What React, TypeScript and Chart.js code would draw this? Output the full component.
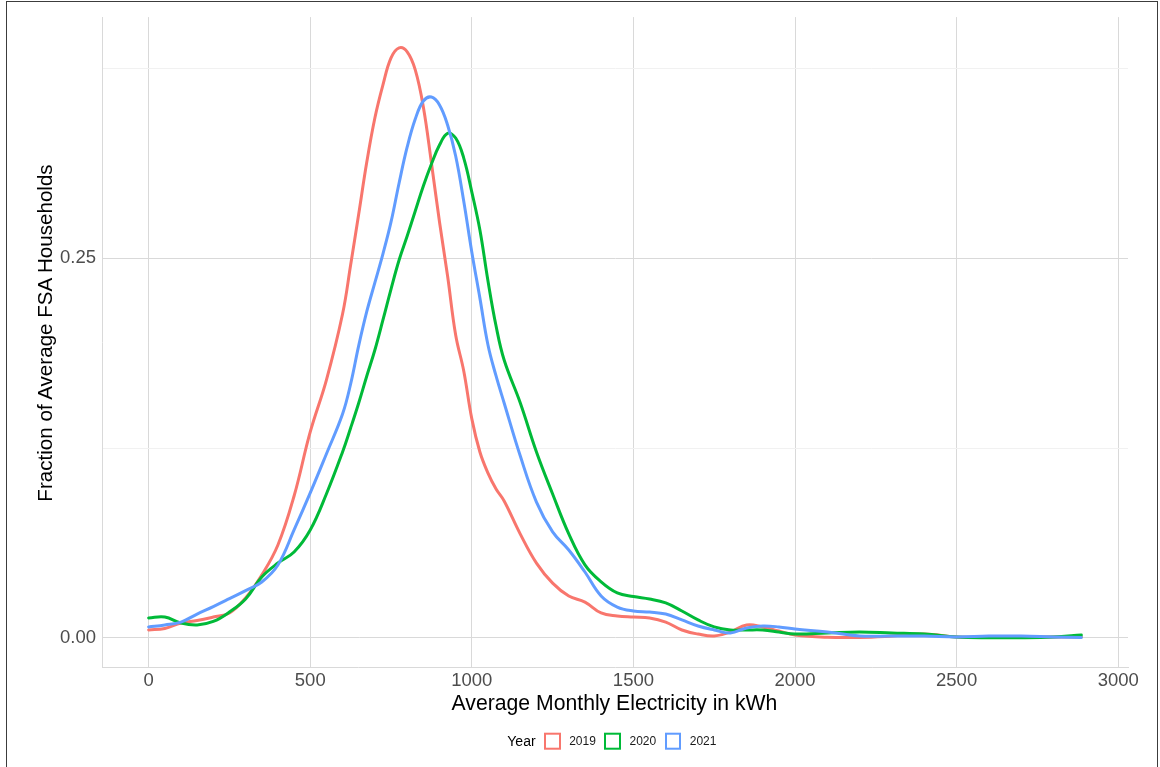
import React, { useEffect, useRef } from "react";
import { Chart, registerables } from "chart.js";

Chart.register(...registerables);

// Average monthly electricity (kWh) sample positions
const kwh = [
  0, 50, 100, 150, 200, 250, 300, 350, 400, 450, 500, 550,
  600, 625, 650, 675, 700, 725, 750, 775, 800, 825, 850, 875, 900, 925, 950, 975, 1000, 1025, 1050, 1075, 1100,
  1150, 1200, 1250, 1300, 1350, 1400, 1450, 1500, 1550, 1600, 1650, 1700, 1750, 1800, 1850, 1900, 1950, 2000,
  2100, 2200, 2300, 2400, 2500, 2600, 2700, 2800, 2886,
];

const density2019 = [
  0.0051, 0.0061, 0.0097, 0.0113, 0.0136, 0.0163, 0.0262, 0.0413, 0.0611, 0.0934, 0.1356, 0.1698,
  0.2133, 0.2456, 0.2792, 0.3135, 0.3425, 0.3643, 0.3821, 0.3887, 0.3861, 0.3742, 0.3498, 0.3129, 0.274, 0.2384, 0.1995, 0.1758, 0.1442, 0.1224, 0.1085, 0.098, 0.0901,
  0.0683, 0.0492, 0.036, 0.0275, 0.0235, 0.0163, 0.0143, 0.0136, 0.013, 0.0103, 0.0051, 0.0024, 0.0011, 0.0038, 0.0084, 0.0071, 0.0044, 0.0018,
  0.0003, 0.0002, 0.0011, 0.0024, 0.0005, 0.0005, 0.0005, 0.0005, 0.0005,
];

const density2020 = [
  0.013, 0.0136, 0.0097, 0.0084, 0.0107, 0.0169, 0.0255, 0.04, 0.0492, 0.0565, 0.071, 0.0947,
  0.1224, 0.1382, 0.1547, 0.1725, 0.1896, 0.2094, 0.2298, 0.2489, 0.2647, 0.2812, 0.2977, 0.3122, 0.3247, 0.3324, 0.3293, 0.3161, 0.2937, 0.2687, 0.2351, 0.2054, 0.183,
  0.1547, 0.1224, 0.0947, 0.0684, 0.048, 0.0368, 0.0295, 0.0271, 0.0255, 0.0229, 0.0176, 0.0117, 0.0071, 0.0051, 0.0051, 0.0051, 0.0038, 0.0024,
  0.0031, 0.0038, 0.0031, 0.0024, 0.0005, 0.0, 0.0, 0.0005, 0.0018,
];

const density2021 = [
  0.0071, 0.0084, 0.0103, 0.0156, 0.0205, 0.0257, 0.031, 0.0367, 0.0479, 0.071, 0.0954, 0.1211,
  0.1474, 0.1672, 0.1925, 0.215, 0.234, 0.253, 0.274, 0.2997, 0.3234, 0.3418, 0.3537, 0.3563, 0.3511, 0.3379, 0.3175, 0.2877, 0.2541, 0.2238, 0.1929, 0.1725, 0.1547,
  0.1197, 0.0894, 0.0697, 0.0578, 0.0433, 0.0275, 0.0202, 0.0176, 0.0169, 0.0156, 0.0117, 0.0077, 0.0051, 0.0031, 0.0064, 0.0077, 0.0071, 0.0057,
  0.0038, 0.0011, 0.0011, 0.0011, 0.0005, 0.0011, 0.0011, 0.0005, 0.0001,
];

const years = ["2019", "2020", "2021"];
const seriesValues = [density2019, density2020, density2021];
const seriesColors = ["#F8766D", "#00BA38", "#619CFF"];

const xTickValues = [0, 500, 1000, 1500, 2000, 2500, 3000];
const yTickValues = [0, 0.125, 0.25, 0.375];
const yTickLabels = ["0.00", "", "0.25", ""];

const xTitle = "Average Monthly Electricity in kWh";
const yTitle = "Fraction of Average FSA Households";
const legendTitle = "Year";

const FONT = '"Liberation Sans", Arial, Helvetica, sans-serif';

export default function App() {
  const canvasRef = useRef<HTMLCanvasElement | null>(null);

  useEffect(() => {
    if (!canvasRef.current) return;
    const datasets = years.map((yr, i) => ({
      label: yr,
      data: kwh.map((x, j) => ({ x, y: seriesValues[i][j] })),
      borderColor: seriesColors[i],
      backgroundColor: seriesColors[i],
      borderWidth: 3,
      pointRadius: 0,
      pointHoverRadius: 0,
      fill: false,
      tension: 0.4,
      borderJoinStyle: "round" as const,
      borderCapStyle: "round" as const,
      order: years.length - i,
    }));

    const chart = new Chart(canvasRef.current, {
      type: "line",
      data: { datasets },
      options: {
        animation: false,
        responsive: false,
        events: [],
        layout: { padding: { top: 17, right: 32, left: 0, bottom: 0 } },
        plugins: {
          legend: { display: false },
          tooltip: { enabled: false },
          title: { display: false },
        },
        scales: {
          x: {
            type: "linear",
            min: -144.3,
            max: 3030.3,
            afterBuildTicks: (axis: any) => {
              axis.ticks = xTickValues.map((v) => ({ value: v }));
            },
            afterFit: (axis: any) => {
              axis.height = 100;
            },
            grid: {
              color: "#D9D9D9",
              lineWidth: 1,
              drawTicks: false,
            },
            border: { display: true, color: "#D9D9D9", width: 1 },
            ticks: {
              padding: 3,
              color: "#4D4D4D",
              font: { family: FONT, size: 18.5 },
              maxRotation: 0,
              autoSkip: false,
              callback: (v: any) => String(v),
            },
          },
          y: {
            type: "linear",
            min: -0.0193,
            max: 0.409,
            afterBuildTicks: (axis: any) => {
              axis.ticks = yTickValues.map((v) => ({ value: v }));
            },
            afterFit: (axis: any) => {
              axis.width = 102;
            },
            grid: {
              color: (ctx: any) => {
                const v = ctx.tick ? ctx.tick.value : 0;
                const idx = yTickValues.indexOf(v);
                return idx >= 0 && yTickLabels[idx] === "" ? "#F1F1F1" : "#D9D9D9";
              },
              lineWidth: 1,
              drawTicks: false,
            },
            border: { display: true, color: "#D9D9D9", width: 1 },
            ticks: {
              padding: 6,
              color: "#4D4D4D",
              font: { family: FONT, size: 18.5 },
              autoSkip: false,
              callback: (v: any) => {
                const idx = yTickValues.indexOf(Number(v));
                return idx >= 0 ? yTickLabels[idx] : "";
              },
            },
          },
        },
      },
    });
    return () => chart.destroy();
  }, []);

  return (
    <div
      style={{
        position: "absolute",
        left: 0,
        top: 0,
        width: 1160,
        height: 767,
        background: "#FFFFFF",
        fontFamily: FONT,
        overflow: "hidden",
      }}
    >
      <canvas
        ref={canvasRef}
        width={1160}
        height={767}
        style={{ position: "absolute", left: 0, top: 0, width: 1160, height: 767 }}
      />
      <div
        style={{
          position: "absolute",
          left: 5.5,
          top: 1,
          width: 1150,
          height: 780,
          borderTop: "1.5px solid #3C3C3C",
          borderLeft: "1.5px solid #3C3C3C",
          borderRight: "1.5px solid #3C3C3C",
          pointerEvents: "none",
        }}
      />
      <div
        style={{
          position: "absolute",
          left: 614.5,
          top: 703,
          transform: "translate(-50%, -50%)",
          whiteSpace: "nowrap",
          fontSize: 21.2,
          color: "#000",
          lineHeight: 1,
        }}
      >
        {xTitle}
      </div>
      <div
        style={{
          position: "absolute",
          left: 45,
          top: 332.5,
          transform: "translate(-50%, -50%) rotate(-90deg)",
          whiteSpace: "nowrap",
          fontSize: 20.6,
          color: "#000",
          lineHeight: 1,
        }}
      >
        {yTitle}
      </div>
      <div
        style={{
          position: "absolute",
          left: 507.3,
          top: 741,
          transform: "translateY(-50%)",
          display: "flex",
          alignItems: "center",
          whiteSpace: "nowrap",
        }}
      >
        <span style={{ fontSize: 14, color: "#000", marginRight: 8.6 }}>{legendTitle}</span>
        {years.map((yr, i) => (
          <React.Fragment key={yr}>
            <span
              style={{
                display: "inline-block",
                width: 16.6,
                height: 16.6,
                boxSizing: "border-box",
                border: `2.6px solid ${seriesColors[i]}`,
                background: "#FFFFFF",
                marginRight: 8.4,
              }}
            />
            <span style={{ fontSize: 12, color: "#1A1A1A", marginRight: 8.6 }}>{yr}</span>
          </React.Fragment>
        ))}
      </div>
    </div>
  );
}
